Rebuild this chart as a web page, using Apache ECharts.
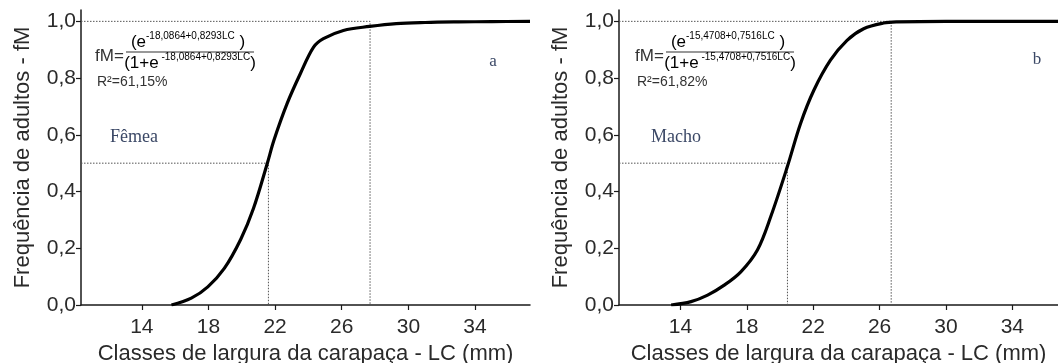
<!DOCTYPE html>
<html>
<head>
<meta charset="utf-8">
<script src="https://cdn.jsdelivr.net/npm/echarts@6/dist/echarts.min.js"></script>
<style>
html,body{margin:0;padding:0;background:#fff;}
#chart{width:1058px;height:363px;}
</style>
</head>
<body>
<div id="chart"></div>
<script>
// ---- data ----
var xTickValues = [14, 18, 22, 26, 30, 34];
var yTickValues = [0, 0.2, 0.4, 0.6, 0.8, 1.0];

var femaleLC = [15.78, 16.97, 17.96, 18.95, 19.94, 20.7, 21.53, 21.93, 22.72, 23.52, 24.31, 24.9, 26.1, 27.68, 29.27, 31, 33, 35, 37.3];
var femaleFM = [0, 0.024, 0.064, 0.129, 0.232, 0.34, 0.499, 0.581, 0.71, 0.816, 0.909, 0.939, 0.968, 0.982, 0.992, 0.996, 0.998, 0.999, 1.0];

var maleLC = [13.44, 14.64, 15.64, 16.64, 17.64, 18.64, 19.44, 20.44, 21.24, 22.04, 23.04, 24.04, 25.04, 26.24, 27.04, 30, 34, 36.75];
var maleFM = [0, 0.012, 0.035, 0.070, 0.117, 0.194, 0.311, 0.487, 0.640, 0.757, 0.863, 0.933, 0.974, 0.994, 0.998, 1.0, 1.0, 1.0];

// reference levels (fM) and sizes (LC) of the dotted guide lines
var refLevels = [0.5, 1.0];
var femaleRefLC = [21.6, 27.7];
var maleRefLC = [20.45, 26.7];

var xRangeFemale = [10.35, 37.3];
var xRangeMale = [10.3, 36.75];
var yRange = [0, 1.04];

var texts = {
  yTitle: 'Frequência de adultos - fM',
  xTitle: 'Classes de largura da carapaça - LC (mm)',
  femaleExp: '-18,0864+0,8293LC',
  maleExp: '-15,4708+0,7516LC',
  femaleR2: 'R²=61,15%',
  maleR2: 'R²=61,82%',
  female: 'Fêmea',
  male: 'Macho',
  a: 'a',
  b: 'b'
};

// ---- build ----
function zip(xs, ys){ return xs.map(function(x,i){ return [x, ys[i]]; }); }
function fmt(v){ return v.toFixed(1).replace('.', ','); }

var sans = '"Liberation Sans", Arial, sans-serif';
var serif = '"Liberation Serif", "Times New Roman", serif';
var axisColor = '#1a1a1a';
var textColor = '#333333';
var labelColor = '#3b4866';

function xAxisFor(idx, range){
  return {
    type: 'value', gridIndex: idx, min: range[0], max: range[1],
    name: texts.xTitle, nameLocation: 'middle', nameGap: 38,
    nameTextStyle: {fontFamily: sans, fontSize: 22, color: '#2a2a2a'},
    axisLine: {show: true, onZero: false, lineStyle: {color: axisColor, width: 1.5}},
    axisTick: {show: true, length: 5, lineStyle: {color: axisColor, width: 1.2}, customValues: xTickValues},
    axisLabel: {fontFamily: sans, fontSize: 21, color: '#2a2a2a', margin: 12, customValues: xTickValues,
      formatter: function(v){ return String(v); }},
    splitLine: {show: false}
  };
}
function yAxisFor(idx){
  return {
    type: 'value', gridIndex: idx, min: yRange[0], max: yRange[1],
    name: texts.yTitle, nameLocation: 'middle', nameGap: 47, nameRotate: 90,
    nameTextStyle: {fontFamily: sans, fontSize: 22, color: '#2a2a2a'},
    axisLine: {show: true, onZero: false, lineStyle: {color: axisColor, width: 1.5}},
    axisTick: {show: true, length: 5, lineStyle: {color: axisColor, width: 1.2}, customValues: yTickValues},
    axisLabel: {fontFamily: sans, fontSize: 21, color: '#2a2a2a', margin: 5, customValues: yTickValues,
      formatter: function(v){ return fmt(v); }},
    splitLine: {show: false}
  };
}
function curve(idx, xs, ys){
  return {
    type: 'line', xAxisIndex: idx, yAxisIndex: idx, data: zip(xs, ys),
    smooth: 0.35, symbol: 'none', silent: true, z: 5,
    lineStyle: {color: '#000', width: 3.2}
  };
}
function guide(idx, pts){
  return {
    type: 'line', xAxisIndex: idx, yAxisIndex: idx, data: pts,
    symbol: 'none', silent: true, z: 3,
    lineStyle: {color: '#555', width: 1, type: [1.5, 1.5]}
  };
}
function guides(idx, range, refLC){
  return [
    guide(idx, [[range[0], refLevels[0]], [refLC[0], refLevels[0]], [refLC[0], 0]]),
    guide(idx, [[range[0], refLevels[1]], [refLC[1], refLevels[1]], [refLC[1], 0]])
  ];
}

var richBase = {
  b: {fontFamily: sans, fontSize: 17, color: textColor, lineHeight: 21},
  s: {fontFamily: sans, fontSize: 10, color: textColor, lineHeight: 11, verticalAlign: 'top'}
};
function formula(dx, exp, r2){
  return [
    {type: 'text', x: 95 + dx, y: 56, style: {text: 'fM=', fontFamily: sans, fontSize: 17, fill: textColor, align: 'left', verticalAlign: 'middle'}},
    {type: 'text', x: 188 + dx, y: 42, style: {text: '{b|(e}{s|' + exp + '}{b| )}', rich: richBase, align: 'center', verticalAlign: 'middle'}},
    {type: 'line', shape: {x1: 126 + dx, y1: 52, x2: 254 + dx, y2: 52}, style: {stroke: textColor, lineWidth: 1.2}},
    {type: 'text', x: 190 + dx, y: 63, style: {text: '{b|(1+e}{s| ' + exp + '}{b|)}', rich: richBase, align: 'center', verticalAlign: 'middle'}},
    {type: 'text', x: 97 + dx, y: 82, style: {text: r2, fontFamily: sans, fontSize: 14, fill: textColor, align: 'left', verticalAlign: 'middle'}}
  ];
}

var graphics = []
  .concat(formula(0, texts.femaleExp, texts.femaleR2))
  .concat(formula(540, texts.maleExp, texts.maleR2))
  .concat([
    {type: 'text', x: 110, y: 137, style: {text: texts.female, fontFamily: serif, fontSize: 18, fill: labelColor, align: 'left', verticalAlign: 'middle'}},
    {type: 'text', x: 651, y: 137, style: {text: texts.male, fontFamily: serif, fontSize: 18, fill: labelColor, align: 'left', verticalAlign: 'middle'}},
    {type: 'text', x: 493, y: 62, style: {text: texts.a, fontFamily: serif, fontSize: 17, fill: labelColor, align: 'center', verticalAlign: 'middle'}},
    {type: 'text', x: 1037, y: 60, style: {text: texts.b, fontFamily: serif, fontSize: 17, fill: labelColor, align: 'center', verticalAlign: 'middle'}}
  ]);

var option = {
  animation: false,
  backgroundColor: '#fff',
  grid: [
    {left: 81, top: 10, width: 449, bottom: 58, containLabel: false, outerBoundsMode: 'none'},
    {left: 619, top: 10, right: 0, bottom: 58, containLabel: false, outerBoundsMode: 'none'}
  ],
  xAxis: [xAxisFor(0, xRangeFemale), xAxisFor(1, xRangeMale)],
  yAxis: [yAxisFor(0), yAxisFor(1)],
  series: [].concat(guides(0, xRangeFemale, femaleRefLC), guides(1, xRangeMale, maleRefLC),
    [curve(0, femaleLC, femaleFM), curve(1, maleLC, maleFM)]),
  graphic: graphics
};

var chart = echarts.init(document.getElementById('chart'), null, {renderer: 'canvas'});
chart.setOption(option);
</script>
</body>
</html>
